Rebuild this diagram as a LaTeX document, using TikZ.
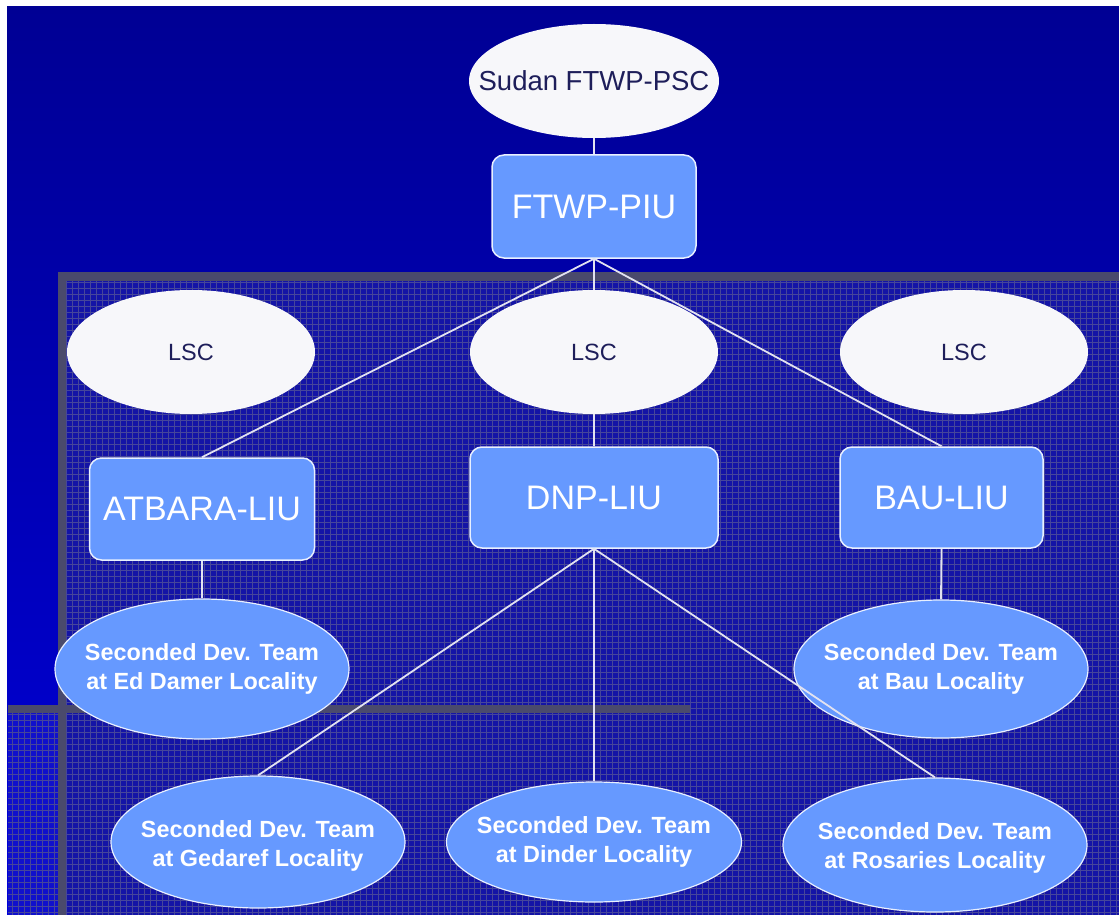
\documentclass[tikz,border=0pt]{standalone}
\usepackage{fontspec}
\setmainfont{Liberation Sans}
\usetikzlibrary{shapes.geometric}

\definecolor{bgtop}{HTML}{000094}
\definecolor{bgbot}{HTML}{0000D8}
\definecolor{gridfill}{HTML}{1414A6}
\definecolor{gridfillb}{HTML}{1010CC}
\definecolor{gridline}{HTML}{46469A}
\definecolor{framegray}{HTML}{4A4A6C}
\definecolor{boxblue}{HTML}{6699FF}
\definecolor{paleell}{HTML}{F7F7FA}
\definecolor{navytext}{HTML}{1E1E5A}
\definecolor{linkgray}{HTML}{E2E2F0}

\tikzset{
  palenode/.style={ellipse, fill=paleell, inner sep=0pt},
  paletext/.style={text=navytext, inner sep=0pt},
  unitbox/.style={rectangle, rounded corners=12pt, fill=boxblue,
    draw=white!85!boxblue, line width=1.5pt, text=white,
    font=\fontsize{34}{40}\selectfont, inner sep=0pt},
  teamnode/.style={ellipse, fill=boxblue, draw=white!85!boxblue,
    line width=1.2pt, inner sep=0pt},
  teamtext/.style={text=white, align=center, inner sep=0pt,
    font=\bfseries\fontsize{23.4}{28.5}\selectfont},
  link/.style={draw=linkgray, line width=1.8pt}
}

\begin{document}
\begin{tikzpicture}[x=1pt,y=-1pt]
\useasboundingbox (0,0) rectangle (1119,915);
\fill[white] (0,0) rectangle (1119,915);

% slide background
\shade[top color=bgtop, bottom color=bgbot] (7,7) rectangle (1119,915);

% gridded panels
\fill[gridfill] (58,272) rectangle (1119,915);
\fill[gridfillb] (8,713) rectangle (58,915);
\begin{scope}
  \clip (66,281) rectangle (1119,915);
  \draw[gridline, line width=0.6pt, step=6pt] (60,275) grid (1125,920);
\end{scope}
\begin{scope}
  \clip (8,713) rectangle (58,915);
  \draw[gridline, line width=0.6pt, step=6pt] (0,705) grid (60,920);
\end{scope}

% panel frames
\fill[framegray] (58,272) rectangle (1119,281);
\fill[framegray] (58,272) rectangle (66,915);
\fill[framegray] (8,705) rectangle (690,713);

% committees and units
\node[palenode, minimum width=250pt, minimum height=114pt,
      label={[paletext, font=\fontsize{27.5}{32}\selectfont]center:Sudan FTWP-PSC}]
      (psc) at (594,81) {};
\node[unitbox, minimum width=204pt, minimum height=103pt] (piu) at (594,206.5) {FTWP-PIU};

\node[palenode, minimum width=248pt, minimum height=124pt,
      label={[paletext, font=\fontsize{23.5}{28}\selectfont]center:LSC}]
      (lscL) at (191,352) {};
\node[palenode, minimum width=248pt, minimum height=124pt,
      label={[paletext, font=\fontsize{23.5}{28}\selectfont]center:LSC}]
      (lscM) at (594,352) {};
\node[palenode, minimum width=248pt, minimum height=124pt,
      label={[paletext, font=\fontsize{23.5}{28}\selectfont]center:LSC}]
      (lscR) at (964,352) {};

\node[unitbox, minimum width=225pt, minimum height=102pt] (atb) at (202,509) {ATBARA-LIU};
\node[unitbox, minimum width=248pt, minimum height=101pt] (dnp) at (594,497.5) {DNP-LIU};
\node[unitbox, minimum width=203pt, minimum height=101pt] (bau) at (941.5,497.5) {BAU-LIU};

\node[teamnode, minimum width=294pt, minimum height=140pt,
      label={[teamtext]center:{Seconded Dev. Team\\at Ed Damer Locality}}]
      (ed) at (202,669) {};
\node[teamnode, minimum width=294pt, minimum height=138pt,
      label={[teamtext]center:{Seconded Dev. Team\\at Bau Locality}}]
      (bauT) at (941,669) {};
\node[teamnode, minimum width=294pt, minimum height=132pt,
      label={[teamtext, yshift=-4pt]center:{Seconded Dev. Team\\at Gedaref Locality}}]
      (ged) at (258,842) {};
\node[teamnode, minimum width=295pt, minimum height=120pt,
      label={[teamtext]center:{Seconded Dev. Team\\at Dinder Locality}}]
      (din) at (594,842) {};
\node[teamnode, minimum width=304pt, minimum height=134pt,
      label={[teamtext, yshift=-3pt]center:{Seconded Dev. Team\\at Rosaries Locality}}]
      (ros) at (935,845) {};

% reporting lines
\draw[link] (psc.south) -- (piu.north);
\draw[link] (piu.south) -- (atb.north);
\draw[link] (piu.south) -- (lscM.north);
\draw[link] (lscM.south) -- (dnp.north);
\draw[link] (piu.south) -- (bau.north);
\draw[link] (atb.south) -- (ed.north);
\draw[link] (bau.south) -- (bauT.north);
\draw[link] (dnp.south) -- (ged.north);
\draw[link] (dnp.south) -- (din.north);
\draw[link] (dnp.south) -- (ros.north);
\end{tikzpicture}
\end{document}
